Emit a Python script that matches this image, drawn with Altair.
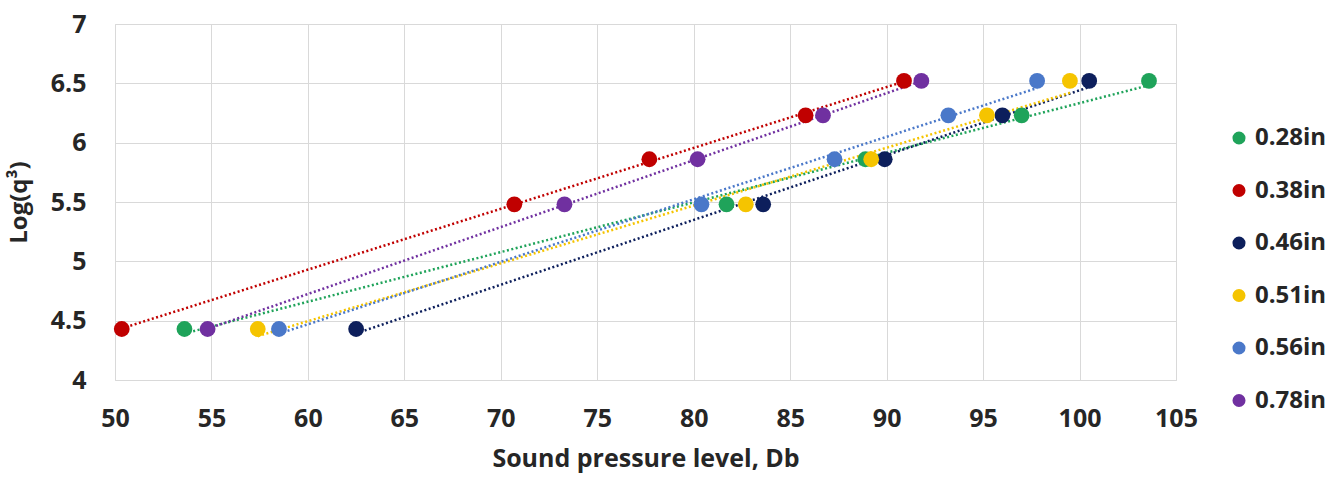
import altair as alt
import pandas as pd

series = ["0.28in", "0.38in", "0.46in", "0.51in", "0.56in", "0.78in"]
colors = ["#1FA35A", "#C00000", "#0D1F5C", "#F5C400", "#4A78C9", "#7030A0"]

y_levels = [4.43, 5.48, 5.86, 6.23, 6.52]
x_028 = [53.6, 81.7, 88.9, 97.0, 103.6]
x_038 = [50.35, 70.7, 77.7, 85.8, 90.9]
x_046 = [62.5, 83.6, 89.9, 96.0, 100.5]
x_051 = [57.4, 82.7, 89.2, 95.2, 99.5]
x_056 = [58.5, 80.4, 87.3, 93.2, 97.8]
x_078 = [54.8, 73.3, 80.2, 86.7, 91.8]

xs = [x_028, x_038, x_046, x_051, x_056, x_078]
rows = []
for name, xv in zip(series, xs):
    for xx, yy in zip(xv, y_levels):
        rows.append({"series": name, "x": xx, "y": yy})
df = pd.DataFrame(rows)

FONT = "Open Sans"

legend = alt.Legend(
    title=None,
    orient="none",
    legendX=1112,
    legendY=102,
    symbolType="circle",
    symbolSize=170,
    symbolStrokeWidth=0,
    labelFontSize=24,
    labelFont=FONT,
    labelFontWeight="bold",
    labelColor="#262626",
    rowPadding=28.5,
    labelOffset=4,
)
color = alt.Color("series:N", scale=alt.Scale(domain=series, range=colors), legend=legend)

xenc = alt.X(
    "x:Q",
    scale=alt.Scale(domain=[50, 105], nice=False, zero=False),
    axis=alt.Axis(
        values=[50, 55, 60, 65, 70, 75, 80, 85, 90, 95, 100, 105],
        title="Sound pressure level, Db",
        titleFontSize=25,
        titleFont=FONT,
        titleFontWeight="bold",
        titleColor="#262626",
        titlePadding=15,
        labelFontSize=25,
        labelFont=FONT,
        labelFontWeight="bold",
        labelColor="#262626",
        labelPadding=26,
        labelFlush=False,
        tickSize=0,
        domain=False,
        gridColor="#d9d9d9",
        labelExpr="datum.value",
    ),
)
yenc = alt.Y(
    "y:Q",
    scale=alt.Scale(domain=[4, 7], nice=False, zero=False),
    axis=alt.Axis(
        values=[4, 4.5, 5, 5.5, 6, 6.5, 7],
        title="Log(q³)",
        titleFontSize=24,
        titleFont=FONT,
        titleFontWeight="bold",
        titleColor="#262626",
        titlePadding=19,
        labelFontSize=25,
        labelFont=FONT,
        labelFontWeight="bold",
        labelColor="#262626",
        labelPadding=29,
        labelFlush=False,
        tickSize=0,
        domain=False,
        gridColor="#d9d9d9",
        labelExpr="datum.value",
    ),
)

base = alt.Chart(df)

lines = base.transform_regression(
    "x", "y", groupby=["series"]
).mark_line(strokeDash=[2, 2.5], strokeWidth=2.5).encode(x=xenc, y=yenc, color=color)

points = base.mark_circle(size=250, opacity=1).encode(x=xenc, y=yenc, color=color)

chart = alt.layer(lines, points).properties(
    width=1061,
    height=356,
    autosize=alt.AutoSizeParams(type="none"),
    padding={"left": 115, "top": 24, "right": 163, "bottom": 99},
).configure_view(stroke="#d9d9d9", strokeWidth=1.5).configure(background="white")

chart.save("out.html", embed_options={"renderer": "svg", "actions": False})
